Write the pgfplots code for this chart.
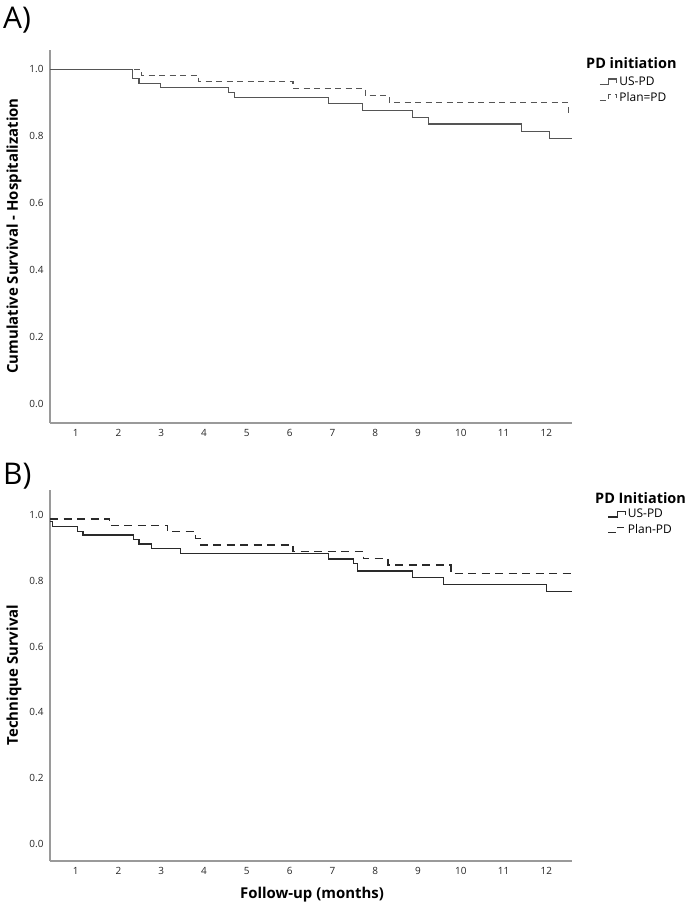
\documentclass[border=0pt]{standalone}
\usepackage{pgfplots}
\pgfplotsset{compat=1.18}
\usepackage{fontspec}
\setmainfont{Open Sans}
\definecolor{lineA}{HTML}{555555}
\definecolor{lineB}{HTML}{2A2A2A}
\definecolor{axgray}{HTML}{9A9A9A}
\begin{document}
\begin{tikzpicture}[x=1bp,y=1bp]
\useasboundingbox (0bp,0bp) rectangle (688bp,906bp);
\pgfplotsset{
  kmaxis/.style={
    scale only axis, width=522bp,
    xmin=0.4, xmax=12.6,
    axis x line*=bottom, axis y line*=left,
    axis line style={draw=axgray, line width=1.1bp, -},
    xtick={1,2,3,4,5,6,7,8,9,10,11,12},
    ytick={0,0.2,0.4,0.6,0.8,1.0},
    major tick length=0pt,
    yticklabel style={/pgf/number format/fixed, /pgf/number format/fixed zerofill, /pgf/number format/precision=1},
    tick label style={font=\fontsize{10}{12}\selectfont, text=black!85},
    /pgf/number format/assume math mode=true,
    xticklabel shift=3bp, yticklabel shift=3bp,
    clip=false,
    legend style={draw=none, fill=none, font=\fontsize{12}{14}\selectfont, inner sep=0pt, row sep=1.5bp, cells={anchor=west}},
    legend image code/.code={\draw[##1] (0bp,-3bp) -- (9bp,-3bp) -- (9bp,2.5bp) -- (17bp,2.5bp) -- (17bp,-1bp);},
  }
}
% Panel A
\begin{axis}[kmaxis, at={(50bp,483bp)}, anchor=south west, height=373bp,
  ymin=-0.057, ymax=1.057,
  legend style={at={(rel axis cs:1.052,0.935)}, anchor=north west}]
\addplot[const plot, draw=lineA, line width=1.1bp] coordinates {
(0.4,1.0) (2.33,0.972) (2.48,0.957) (2.98,0.946) (4.57,0.931) (4.72,0.915) (6.91,0.897) (7.71,0.877) (8.88,0.856) (9.24,0.836) (11.42,0.813) (12.08,0.792) (12.6,0.792)};
\addlegendentry{US-PD}
\addplot[const plot, draw=lineA, line width=1.1bp, dash pattern=on 6bp off 4.5bp] coordinates {
(0.4,1.0) (2.54,0.981) (3.88,0.963) (6.08,0.942) (7.77,0.920) (8.34,0.899) (12.52,0.868) (12.55,0.868)};
\addlegendentry{Plan=PD}
\end{axis}
% Panel B
\begin{axis}[kmaxis, at={(50bp,45bp)}, anchor=south west, height=371bp,
  ymin=-0.052, ymax=1.076,
  legend style={at={(rel axis cs:1.068,0.955)}, anchor=north west}]
\addplot[const plot, draw=lineB, line width=1.2bp] coordinates {
(0.4,0.98) (0.46,0.965) (1.04,0.951) (1.17,0.939) (2.35,0.926) (2.48,0.912) (2.78,0.899) (3.45,0.884) (6.91,0.866) (7.5,0.852) (7.58,0.830) (8.87,0.810) (9.6,0.789) (12.0,0.767) (12.6,0.767)};
\addlegendentry{US-PD}
\addplot[const plot, draw=lineB, line width=1.2bp, dash pattern=on 8bp off 5.5bp] coordinates {
(0.4,0.988) (1.79,0.968) (3.15,0.949) (3.80,0.929) (3.92,0.909) (6.08,0.889) (7.72,0.867) (8.3,0.848) (9.77,0.823) (12.6,0.823)};
\addlegendentry{Plan-PD}
\end{axis}
% Panel letters
\node[anchor=west, font=\fontsize{30}{34}\selectfont, inner sep=0pt] at (3bp,886bp) {A)};
\node[anchor=west, font=\fontsize{30}{34}\selectfont, inner sep=0pt] at (3bp,430bp) {B)};
% Legend titles
\node[anchor=west, font=\bfseries\fontsize{14.5}{17}\selectfont, inner sep=0pt] at (586bp,843bp) {PD initiation};
\node[anchor=west, font=\bfseries\fontsize{14.5}{17}\selectfont, inner sep=0pt] at (595bp,408bp) {PD Initiation};
% Axis titles
\node[rotate=90, font=\bfseries\fontsize{15}{18}\selectfont, inner sep=0pt] at (14bp,670bp) {Cumulative Survival - Hospitalization};
\node[rotate=90, font=\bfseries\fontsize{15}{18}\selectfont, inner sep=0pt] at (14bp,231bp) {Technique Survival};
\node[font=\bfseries\fontsize{15}{18}\selectfont, inner sep=0pt] at (312bp,11bp) {Follow-up (months)};
\end{tikzpicture}
\end{document}
